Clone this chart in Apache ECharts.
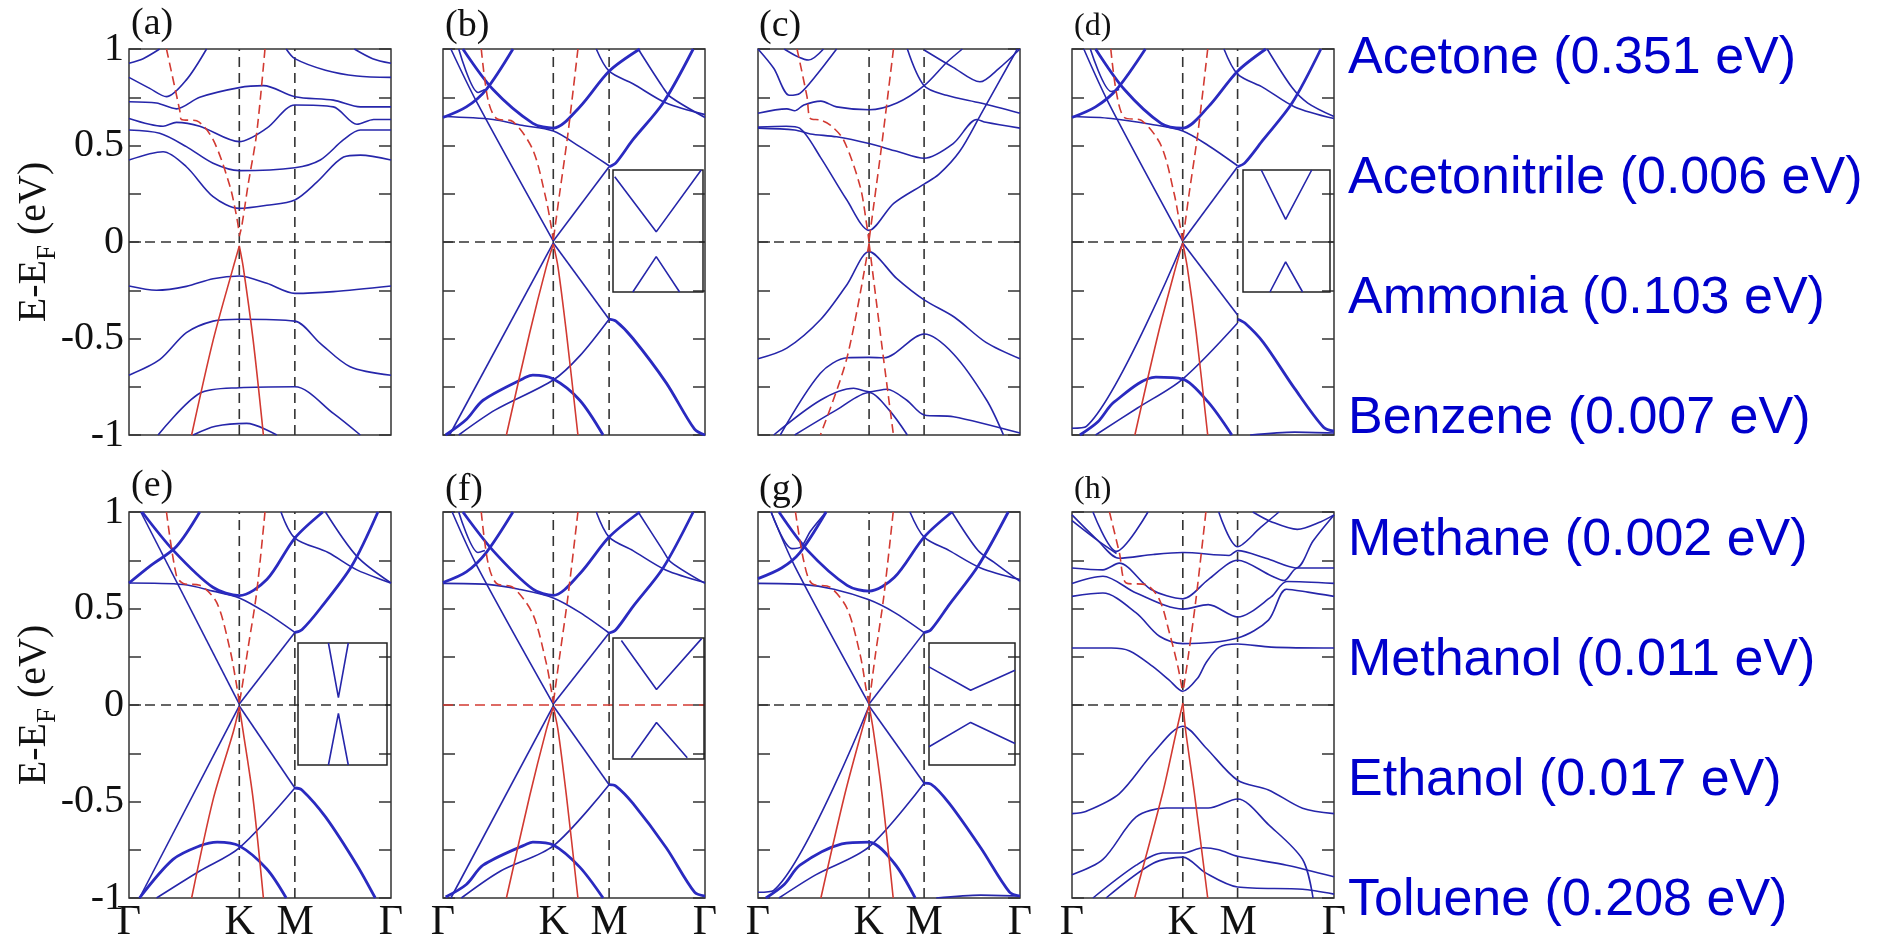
<!DOCTYPE html>
<html><head><meta charset="utf-8">
<script src="https://cdn.jsdelivr.net/npm/echarts@6/dist/echarts.min.js"></script>
<style>html,body{margin:0;padding:0;background:#fff}#c{width:1881px;height:935px}</style>
</head><body><div id="c"></div>
<script>
// ---------- axis / text data ----------
const kLabels = ['Γ','K','M','Γ'];
const kPos = [0, 0.4226, 0.634, 1];
const panelLabels = ['(a)','(b)','(c)','(d)','(e)','(f)','(g)','(h)'];
const molecules = ['Acetone (0.351 eV)','Acetonitrile (0.006 eV)','Ammonia (0.103 eV)','Benzene (0.007 eV)',
                   'Methane (0.002 eV)','Methanol (0.011 eV)','Ethanol (0.017 eV)','Toluene (0.208 eV)'];

// ---------- panel (a) Acetone ----------
const bandsA = [
 [[0.111,-1],[0.27,-0.784],[0.421,-0.755],[0.633,-0.75],[0.78,-0.888],[0.883,-1]],
 [[0.245,-1],[0.33,-0.955],[0.449,-0.94],[0.564,-1]],
 [[0,-0.69],[0.117,-0.61],[0.219,-0.47],[0.321,-0.41],[0.421,-0.40],[0.633,-0.41],[0.73,-0.525],[0.844,-0.646],[1,-0.69]],
 [[0,-0.228],[0.105,-0.25],[0.219,-0.23],[0.321,-0.19],[0.421,-0.176],[0.526,-0.214],[0.633,-0.266],[0.78,-0.257],[1,-0.228]],
 [[0,0.425],[0.13,0.468],[0.219,0.39],[0.321,0.235],[0.421,0.174],[0.526,0.19],[0.633,0.218],[0.717,0.31],[0.819,0.44],[0.883,0.45],[1,0.425]],
 [[0,0.58],[0.117,0.563],[0.219,0.494],[0.321,0.408],[0.421,0.37],[0.633,0.385],[0.73,0.425],[0.819,0.53],[0.883,0.58],[1,0.58]],
 [[0,0.64],[0.13,0.60],[0.181,0.62],[0.27,0.6],[0.421,0.52],[0.526,0.59],[0.633,0.71],[0.78,0.70],[0.87,0.61],[0.934,0.635],[1,0.635]],
 [[0,0.727],[0.105,0.72],[0.181,0.69],[0.27,0.75],[0.421,0.80],[0.513,0.81],[0.633,0.753],[0.78,0.735],[0.883,0.70],[1,0.70]],
 [[0,0.853],[0.079,0.796],[0.143,0.753],[0.219,0.84],[0.296,1.0]],
 [[0,0.926],[0.054,0.95],[0.117,1.0]],
 [[0.60,1.0],[0.633,0.95],[0.75,0.89],[0.87,0.86],[1,0.853]],
 [[0.86,1.0],[0.93,0.95],[1,0.926]]
];
const thickA = [];
const redSolidA = [
 [[0.239,-1],[0.321,-0.51],[0.398,-0.13],[0.421,-0.02]],
 [[0.513,-1],[0.474,-0.51],[0.436,-0.13],[0.421,-0.02]]
];
const redDashA = [
 [[0.143,1.0],[0.194,0.68],[0.2,0.635],[0.258,0.628],[0.321,0.53],[0.385,0.29],[0.411,0.13],[0.421,0.045]],
 [[0.519,1.0],[0.487,0.56],[0.455,0.30],[0.43,0.08],[0.421,0.03]]
];

// ---------- panel (b) Acetonitrile ----------
const bandsB = [
 [[0.421,0.005],[0.127,0.73],[0.03,1.0]],
 [[0.421,0.005],[0.634,0.39]],
 [[0.421,-0.005],[0.025,-1.0]],
 [[0.421,-0.005],[0.634,-0.40]],
 [[0,0.65],[0.191,0.635],[0.293,0.606],[0.421,0.575],[0.522,0.494],[0.634,0.395]],
 [[0.06,-1.0],[0.2,-0.87],[0.421,-0.715],[0.522,-0.59],[0.634,-0.40]],
 [[0.585,1.0],[0.634,0.885],[0.725,0.82],[0.852,0.72],[1,0.66]],
 [[0.745,1.0],[0.84,0.8],[0.87,0.75],[1,0.645]],
 [[0.06,1.0],[0.134,0.775],[0.16,0.79]]
];
const thickB = [
 [[0,0.645],[0.089,0.70],[0.165,0.79],[0.267,1.0]],
 [[0.076,1.0],[0.191,0.79],[0.343,0.615],[0.421,0.59],[0.522,0.70],[0.634,0.885],[0.751,1.0]],
 [[0.634,0.39],[0.66,0.41],[0.725,0.53],[0.84,0.72],[0.955,1.0]],
 [[0.634,-0.40],[0.66,-0.41],[0.725,-0.5],[0.852,-0.73],[0.96,-0.97],[1,-1.0]],
 [[0.01,-1.0],[0.089,-0.92],[0.153,-0.82],[0.318,-0.70],[0.343,-0.69],[0.421,-0.71],[0.522,-0.82],[0.611,-1.0]]
];
const redSolidB = [
 [[0.242,-1],[0.331,-0.47],[0.394,-0.13],[0.421,-0.01]],
 [[0.515,-1],[0.471,-0.47],[0.439,-0.13],[0.421,-0.01]]
];
const redDashB = [
 [[0.146,1.0],[0.172,0.735],[0.204,0.64],[0.267,0.624],[0.343,0.477],[0.394,0.218],[0.413,0.08],[0.421,0.01]],
 [[0.515,1.0],[0.477,0.563],[0.445,0.25],[0.426,0.06],[0.421,0.01]]
];
const insetBUp = [[0.019,0.89],[0.48,-0.014],[0.98,1.0]];
const insetBLo = [[0.22,-1.0],[0.48,-0.42],[0.74,-1.0]];

// ---------- panel (c) Ammonia ----------
const bandsC = [
 [[0,0.595],[0.108,0.60],[0.159,0.59],[0.238,0.44],[0.338,0.22],[0.424,0.06],[0.518,0.20],[0.634,0.30],[0.69,0.35],[0.77,0.47],[0.85,0.66],[0.99,1.0]],
 [[0,0.59],[0.14,0.58],[0.2,0.56],[0.3,0.545],[0.424,0.51],[0.53,0.47],[0.634,0.434],[0.745,0.51],[0.835,0.635],[0.87,0.62],[1,0.59]],
 [[0,0.667],[0.11,0.69],[0.14,0.68],[0.175,0.71],[0.24,0.73],[0.3,0.70],[0.424,0.685],[0.53,0.72],[0.634,0.81],[0.72,0.93],[0.78,1.0]],
 [[0.57,1.0],[0.634,0.81],[0.72,0.76],[0.85,0.72],[1,0.667]],
 [[0.634,0.995],[0.745,0.905],[0.847,0.83],[0.92,0.9],[1,1.0]],
 [[0,1.0],[0.06,0.9],[0.12,0.76],[0.16,0.77],[0.22,0.86],[0.3,1.0]],
 [[0.1,1.0],[0.193,0.943],[0.25,1.0]],
 [[0,-0.605],[0.11,-0.55],[0.24,-0.40],[0.34,-0.22],[0.424,-0.05],[0.53,-0.19],[0.634,-0.30],[0.75,-0.39],[0.87,-0.52],[1,-0.605]],
 [[0.085,-1],[0.238,-0.68],[0.34,-0.60],[0.424,-0.598],[0.48,-0.6],[0.634,-0.477],[0.746,-0.58],[0.873,-0.82],[0.937,-1]],
 [[0.06,-1],[0.238,-0.82],[0.365,-0.758],[0.424,-0.776],[0.492,-0.763],[0.568,-0.82],[0.634,-0.896],[0.746,-0.905],[1,-0.99]],
 [[0.14,-1],[0.3,-0.87],[0.424,-0.78],[0.5,-0.87],[0.57,-1]]
];
const thickC = [];
const redSolidC = [];
const redDashC = [
 [[0.149,1.0],[0.187,0.753],[0.2,0.64],[0.238,0.632],[0.276,0.606],[0.327,0.528],[0.39,0.287],[0.416,0.08],[0.424,0.0]],
 [[0.517,1.0],[0.473,0.511],[0.441,0.183],[0.424,0.01]],
 [[0.424,-0.007],[0.339,-0.603],[0.238,-1.0]],
 [[0.424,-0.007],[0.479,-0.603],[0.517,-1.0]]
];

// ---------- panel (d) Benzene ----------
const bandsD = [
 [[0.4226,0.005],[0.14,0.72],[0.045,1.0]],
 [[0.4226,0.005],[0.632,0.39]],
 [[0.4226,-0.005],[0.055,-0.955],[0.0,-0.965]],
 [[0.4226,-0.005],[0.632,-0.378]],
 [[0,0.65],[0.15,0.64],[0.3,0.61],[0.4226,0.575],[0.52,0.5],[0.632,0.395]],
 [[0.09,-1.0],[0.25,-0.86],[0.4226,-0.71],[0.632,-0.42]],
 [[0.58,1.0],[0.632,0.87],[0.73,0.80],[0.85,0.7],[1,0.64]],
 [[0.745,1.0],[0.84,0.8],[0.9,0.72],[1,0.65]],
 [[0.07,1.0],[0.15,0.78],[0.18,0.79]],
 [[0.68,-1.0],[0.85,-0.985],[1,-0.99]]
];
const thickD = [
 [[0,0.645],[0.09,0.70],[0.17,0.79],[0.28,1.0]],
 [[0.09,1.0],[0.2,0.79],[0.34,0.615],[0.4226,0.59],[0.52,0.70],[0.632,0.885],[0.74,1.0]],
 [[0.632,0.39],[0.66,0.41],[0.73,0.53],[0.84,0.72],[0.95,1.0]],
 [[0.632,-0.40],[0.66,-0.42],[0.73,-0.52],[0.85,-0.76],[0.96,-0.96],[1,-0.98]],
 [[0.03,-1.0],[0.1,-0.93],[0.16,-0.83],[0.32,-0.70],[0.4226,-0.71],[0.52,-0.83],[0.61,-1.0]]
];
const redSolidD = [
 [[0.24,-1],[0.33,-0.47],[0.396,-0.13],[0.4226,-0.005]],
 [[0.518,-1],[0.474,-0.47],[0.44,-0.13],[0.4226,-0.005]]
];
const redDashD = [
 [[0.148,1.0],[0.17,0.77],[0.2,0.645],[0.265,0.63],[0.34,0.5],[0.39,0.25],[0.413,0.08],[0.4226,0.005]],
 [[0.518,1.0],[0.48,0.56],[0.447,0.25],[0.428,0.06],[0.4226,0.005]]
];
const insetDUp = [[0.21,1.0],[0.49,0.19],[0.79,1.0]];
const insetDLo = [[0.31,-1.0],[0.49,-0.505],[0.685,-1.0]];

// ---------- panel (e) Methane ----------
const bandsE = [
 [[0.421,0.005],[0.045,1.0]],
 [[0.421,0.005],[0.633,0.376]],
 [[0.421,-0.005],[0.04,-1.0]],
 [[0.421,-0.005],[0.633,-0.43]],
 [[0,0.632],[0.207,0.624],[0.321,0.59],[0.421,0.555],[0.526,0.476],[0.633,0.376]],
 [[0.105,-1],[0.27,-0.86],[0.421,-0.74],[0.633,-0.43]],
 [[0.58,1.0],[0.633,0.865],[0.76,0.79],[0.87,0.70],[1,0.632]],
 [[0.75,1.0],[0.87,0.77],[1,0.632]]
];
const thickE = [
 [[0,0.632],[0.08,0.72],[0.18,0.82],[0.27,1.0]],
 [[0.05,1.0],[0.17,0.8],[0.32,0.61],[0.421,0.567],[0.526,0.65],[0.633,0.865],[0.74,1.0]],
 [[0.633,0.376],[0.66,0.39],[0.73,0.50],[0.85,0.72],[0.95,1.0]],
 [[0.633,-0.43],[0.66,-0.44],[0.75,-0.58],[0.87,-0.83],[0.94,-1.0]],
 [[0.04,-1],[0.168,-0.8],[0.27,-0.73],[0.337,-0.71],[0.421,-0.73],[0.526,-0.85],[0.6,-1]]
];
const redSolidE = [
 [[0.239,-1],[0.321,-0.49],[0.398,-0.14],[0.421,-0.01]],
 [[0.513,-1],[0.474,-0.49],[0.436,-0.14],[0.421,-0.01]]
];
const redDashE = [
 [[0.143,1.0],[0.181,0.67],[0.207,0.63],[0.27,0.62],[0.335,0.53],[0.385,0.29],[0.411,0.1],[0.421,0.01]],
 [[0.519,1.0],[0.487,0.58],[0.455,0.3],[0.43,0.08],[0.421,0.01]]
];
const insetEUp = [[0.342,1.0],[0.454,0.106],[0.565,1.0]];
const insetELo = [[0.342,-1.0],[0.454,-0.155],[0.565,-1.0]];

// ---------- panel (f) Methanol ----------
const bandsF = [
 [[0.421,0.005],[0.13,0.72],[0.035,1.0]],
 [[0.421,0.005],[0.634,0.373]],
 [[0.421,-0.005],[0.03,-1.0]],
 [[0.421,-0.005],[0.634,-0.413]],
 [[0,0.63],[0.17,0.625],[0.29,0.6],[0.421,0.555],[0.522,0.48],[0.634,0.373]],
 [[0.07,-1.0],[0.22,-0.86],[0.421,-0.73],[0.634,-0.413]],
 [[0.585,1.0],[0.634,0.87],[0.725,0.80],[0.85,0.70],[1,0.635]],
 [[0.745,1.0],[0.84,0.8],[0.87,0.74],[1,0.63]],
 [[0.06,1.0],[0.134,0.79],[0.16,0.80]]
];
const thickF = [
 [[0,0.635],[0.089,0.69],[0.165,0.79],[0.267,1.0]],
 [[0.076,1.0],[0.191,0.80],[0.343,0.60],[0.421,0.568],[0.522,0.68],[0.634,0.87],[0.751,1.0]],
 [[0.634,0.373],[0.66,0.39],[0.725,0.51],[0.84,0.71],[0.955,1.0]],
 [[0.634,-0.413],[0.66,-0.42],[0.725,-0.51],[0.852,-0.74],[0.96,-0.97],[1,-0.99]],
 [[0.01,-0.995],[0.089,-0.93],[0.153,-0.83],[0.32,-0.72],[0.343,-0.71],[0.421,-0.725],[0.522,-0.84],[0.611,-1.0]]
];
const redSolidF = [
 [[0.242,-1],[0.331,-0.47],[0.394,-0.13],[0.421,-0.01]],
 [[0.515,-1],[0.471,-0.47],[0.439,-0.13],[0.421,-0.01]]
];
const redDashF = [
 [[0.146,1.0],[0.172,0.735],[0.204,0.63],[0.267,0.61],[0.343,0.47],[0.394,0.218],[0.413,0.08],[0.421,0.01]],
 [[0.515,1.0],[0.477,0.563],[0.445,0.25],[0.426,0.06],[0.421,0.01]]
];
const insetFUp = [[0.092,0.96],[0.478,0.148],[0.974,0.99]];
const insetFLo = [[0.202,-0.978],[0.478,-0.396],[0.816,-0.978]];

// ---------- panel (g) Ethanol ----------
const bandsG = [
 [[0.424,0.005],[0.14,0.72],[0.05,1.0]],
 [[0.424,0.005],[0.634,0.375]],
 [[0.424,-0.005],[0.06,-0.96],[0.0,-0.97]],
 [[0.424,-0.005],[0.634,-0.405]],
 [[0,0.63],[0.17,0.625],[0.29,0.6],[0.424,0.545],[0.52,0.48],[0.634,0.375]],
 [[0.08,-1.0],[0.22,-0.88],[0.424,-0.735],[0.634,-0.405]],
 [[0.58,1.0],[0.634,0.87],[0.73,0.8],[0.85,0.71],[1,0.65]],
 [[0.74,1.0],[0.84,0.8],[0.9,0.74],[1,0.64]],
 [[0.05,1.0],[0.13,0.81],[0.165,0.82],[0.2,0.9],[0.26,1.0]],
 [[0.68,-1.0],[0.85,-0.985],[1,-0.99]]
];
const thickG = [
 [[0,0.655],[0.09,0.71],[0.16,0.79],[0.26,1.0]],
 [[0.08,1.0],[0.19,0.80],[0.34,0.62],[0.424,0.59],[0.52,0.66],[0.634,0.87],[0.74,1.0]],
 [[0.634,0.375],[0.66,0.39],[0.73,0.52],[0.84,0.72],[0.955,1.0]],
 [[0.634,-0.405],[0.66,-0.41],[0.73,-0.51],[0.85,-0.74],[0.96,-0.97],[1,-0.99]],
 [[0.03,-1.0],[0.1,-0.93],[0.16,-0.83],[0.32,-0.72],[0.424,-0.71],[0.52,-0.82],[0.6,-1.0]]
];
const redSolidG = [
 [[0.24,-1],[0.33,-0.47],[0.397,-0.13],[0.424,-0.005]],
 [[0.516,-1],[0.474,-0.47],[0.44,-0.13],[0.424,-0.005]]
];
const redDashG = [
 [[0.143,1.0],[0.174,0.75],[0.205,0.63],[0.275,0.61],[0.34,0.5],[0.39,0.26],[0.413,0.08],[0.424,0.005]],
 [[0.516,1.0],[0.48,0.56],[0.447,0.25],[0.429,0.06],[0.424,0.005]]
];
const insetGUp = [[0,0.608],[0.484,0.226],[1,0.553]];
const insetGLo = [[0,-0.7],[0.484,-0.302],[1,-0.646]];

// ---------- panel (h) Toluene ----------
const bandsH = [
 [[0,0.295],[0.15,0.295],[0.22,0.28],[0.308,0.2],[0.37,0.13],[0.423,0.071],[0.48,0.14],[0.511,0.218],[0.562,0.30],[0.632,0.316],[0.76,0.30],[1,0.295]],
 [[0,0.563],[0.118,0.58],[0.245,0.477],[0.334,0.356],[0.423,0.318],[0.632,0.347],[0.75,0.44],[0.818,0.6],[0.9,0.585],[1,0.563]],
 [[0,0.63],[0.118,0.667],[0.245,0.58],[0.423,0.497],[0.52,0.52],[0.632,0.456],[0.76,0.56],[0.82,0.64],[1,0.63]],
 [[0,0.71],[0.118,0.70],[0.18,0.735],[0.3,0.6],[0.423,0.55],[0.52,0.65],[0.632,0.75],[0.76,0.67],[0.81,0.645],[0.86,0.71],[1,0.71]],
 [[0,0.985],[0.093,0.86],[0.18,0.76],[0.31,0.78],[0.423,0.79],[0.6,0.775],[0.632,0.80],[0.74,0.76],[0.855,0.71],[0.92,0.85],[1,0.985]],
 [[0.08,1.0],[0.169,0.796],[0.29,1.0]],
 [[0,0.955],[0.1,0.85],[0.17,0.785]],
 [[0.56,1.0],[0.632,0.82],[0.72,0.92],[0.79,1.0]],
 [[0.69,1.0],[0.76,0.95],[0.86,0.91],[0.95,0.95],[1,0.985]],
 [[0,-0.563],[0.055,-0.55],[0.18,-0.46],[0.309,-0.25],[0.423,-0.11],[0.51,-0.22],[0.632,-0.39],[0.75,-0.44],[0.88,-0.535],[1,-0.563]],
 [[0,-0.879],[0.118,-0.8],[0.245,-0.58],[0.36,-0.534],[0.423,-0.534],[0.52,-0.534],[0.632,-0.487],[0.75,-0.62],[0.88,-0.8],[0.92,-1.0]],
 [[0.08,-1.0],[0.245,-0.83],[0.345,-0.767],[0.423,-0.767],[0.5,-0.74],[0.56,-0.75],[0.632,-0.784],[0.82,-0.83],[1,-0.89]],
 [[0.13,-1.0],[0.31,-0.82],[0.423,-0.788],[0.51,-0.87],[0.632,-0.943],[0.88,-0.955],[1,-0.98]]
];
const thickH = [];
const redSolidH = [
 [[0.239,-1],[0.346,-0.456],[0.397,-0.145],[0.423,0.01]],
 [[0.518,-1],[0.467,-0.456],[0.435,-0.145],[0.423,0.01]]
];
const redDashH = [
 [[0.143,1.0],[0.181,0.788],[0.207,0.632],[0.283,0.623],[0.334,0.545],[0.372,0.373],[0.404,0.2],[0.423,0.062]],
 [[0.511,1.0],[0.473,0.546],[0.442,0.235],[0.423,0.062]]
];

// ---------- assemble ----------
const panels = [
 {bands:bandsA, thick:thickA, solid:redSolidA, dash:redDashA, K:0.421, M:0.633, zero:'#333'},
 {bands:bandsB, thick:thickB, solid:redSolidB, dash:redDashB, K:0.421, M:0.634, zero:'#333'},
 {bands:bandsC, thick:thickC, solid:redSolidC, dash:redDashC, K:0.424, M:0.634, zero:'#333'},
 {bands:bandsD, thick:thickD, solid:redSolidD, dash:redDashD, K:0.4226, M:0.632, zero:'#333'},
 {bands:bandsE, thick:thickE, solid:redSolidE, dash:redDashE, K:0.421, M:0.633, zero:'#333'},
 {bands:bandsF, thick:thickF, solid:redSolidF, dash:redDashF, K:0.421, M:0.634, zero:'#d23a32'},
 {bands:bandsG, thick:thickG, solid:redSolidG, dash:redDashG, K:0.424, M:0.634, zero:'#333'},
 {bands:bandsH, thick:thickH, solid:redSolidH, dash:redDashH, K:0.423, M:0.632, zero:'#333'}
];
const insets = [
 {up:insetBUp, lo:insetBLo, box:[613,170,90,122]},
 {up:insetDUp, lo:insetDLo, box:[1243,170,87,122]},
 {up:insetEUp, lo:insetELo, box:[298,643,89,122]},
 {up:insetFUp, lo:insetFLo, box:[613,638,91,121]},
 {up:insetGUp, lo:insetGLo, box:[929,643,86,122]}
];

const LEFTS=[129,443,758,1072], TOPS=[49,512], W=262, H=386;
const BLUE='#2626aa', BLUE2='#2a2ac0', RED='#d23a32', GUIDE='#333';
const SERIF='"Liberation Serif", "Times New Roman", serif';
const grids=[], xAxes=[], yAxes=[], series=[], graphics=[];

function labelFor(v){
  let best=0, d=1e9;
  kPos.forEach((p,i)=>{ if(Math.abs(p-v)<d){d=Math.abs(p-v);best=i;} });
  return kLabels[best];
}
function addLine(xi, yi, data, color, width, type, z, smooth){
  series.push({type:'line', xAxisIndex:xi, yAxisIndex:yi, data:data, showSymbol:false, symbol:'none',
    smooth: smooth, silent:true, z:z, clip:true,
    lineStyle:{color:color, width:width, type:type}});
}

panels.forEach((p,i)=>{
  const row=Math.floor(i/4), col=i%4;
  const gi=grids.length;
  grids.push({left:LEFTS[col], top:TOPS[row], width:W, height:H, show:true,
    containLabel:false, outerBoundsMode:'none',
    borderColor:'#333', borderWidth:1.5, backgroundColor:'transparent'});
  const xi=xAxes.length;
  xAxes.push({gridIndex:gi, type:'value', min:0, max:1,
    axisLine:{show:false}, axisTick:{show:false}, splitLine:{show:false},
    axisLabel: row===1 ? {show:true, customValues:kPos, showMinLabel:true, showMaxLabel:true,
       formatter:(v)=>labelFor(v), fontFamily:SERIF, fontSize:42, color:'#111', margin:4}
       : {show:false}});
  const yi=yAxes.length;
  yAxes.push({gridIndex:gi, type:'value', min:-1, max:1, interval:0.25, position:'left',
    axisLine:{show:false}, splitLine:{show:false},
    axisTick:{show:true, inside:true, length:12, lineStyle:{color:'#333', width:1.5}},
    axisLabel: col===0 ? {show:true, fontFamily:SERIF, fontSize:40, color:'#111', margin:5,
       formatter:(v)=>{ const r=Math.round(v*4); return (r%2===0) ? String(Math.round(v*2)/2) : ''; }}
       : {show:false}});
  yAxes.push({gridIndex:gi, type:'value', min:-1, max:1, interval:0.25, position:'right',
    axisLine:{show:false}, splitLine:{show:false}, axisLabel:{show:false},
    axisTick:{show:true, inside:true, length:12, lineStyle:{color:'#333', width:1.5}}});
  // guides
  addLine(xi, yi, [[p.K,-1],[p.K,1]], GUIDE, 1.6, [10,6], 2, false);
  addLine(xi, yi, [[p.M,-1],[p.M,1]], GUIDE, 1.6, [10,6], 2, false);
  addLine(xi, yi, [[0,0],[1,0]], p.zero, 1.6, [10,6], 2, false);
  p.bands.forEach(b=>addLine(xi, yi, b, BLUE, 1.6, 'solid', 3, 0.3));
  p.thick.forEach(b=>addLine(xi, yi, b, BLUE2, 2.8, 'solid', 3, 0.3));
  p.solid.forEach(b=>addLine(xi, yi, b, RED, 1.6, 'solid', 4, 0.3));
  p.dash.forEach(b=>addLine(xi, yi, b, RED, 1.6, [9,5], 4, 0.3));
  // panel label
  const lx = [131,445,759,1074][col];
  const ly = row===0 ? [24,26,26,27][col] : [486,490,490,490][col];
  const fs = (col===3) ? 32 : 38;
  graphics.push({type:'text', x:lx, y:ly, z:10, style:{text:panelLabels[i], font:fs+'px '+SERIF,
    fill:'#111', align:'left', verticalAlign:'middle', textAlign:'left', textVerticalAlign:'middle'}});
});

insets.forEach(s=>{
  const gi=grids.length;
  grids.push({left:s.box[0], top:s.box[1], width:s.box[2], height:s.box[3], show:true,
    containLabel:false, outerBoundsMode:'none',
    borderColor:'#222', borderWidth:1.5, backgroundColor:'transparent', z:5});
  const xi=xAxes.length, yi=yAxes.length;
  xAxes.push({gridIndex:gi, type:'value', min:0, max:1, show:false});
  yAxes.push({gridIndex:gi, type:'value', min:-1, max:1, show:false});
  addLine(xi, yi, s.up, BLUE, 1.6, 'solid', 6, false);
  addLine(xi, yi, s.lo, BLUE, 1.6, 'solid', 6, false);
});

// y-axis titles
[242,705].forEach(y=>{
  graphics.push({type:'text', x:34, y:y, rotation:Math.PI/2, z:10,
    style:{text:'{a|E-E}{s|F}{a| (eV)}', align:'center', verticalAlign:'middle',
      textAlign:'center', textVerticalAlign:'middle', fill:'#111',
      rich:{a:{fontFamily:SERIF, fontSize:40, lineHeight:54, verticalAlign:'middle', fill:'#111', color:'#111'},
            s:{fontFamily:SERIF, fontSize:27, lineHeight:54, verticalAlign:'bottom', fill:'#111', color:'#111'}}}});
});
// molecule labels
const molY=[59,179,299,419,541,661,781,901];
molecules.forEach((m,i)=>{
  graphics.push({type:'text', x:1348, y:molY[i], z:10, style:{text:m, font:'52px "Liberation Sans"', fill:'#0000cc',
    align:'left', verticalAlign:'middle', textAlign:'left', textVerticalAlign:'middle'}});
});

const chart = echarts.init(document.getElementById('c'), null, {renderer:'canvas'});
chart.setOption({animation:false, backgroundColor:'#fff', grid:grids, xAxis:xAxes, yAxis:yAxes, series:series, graphic:{elements:graphics}});
</script></body></html>
